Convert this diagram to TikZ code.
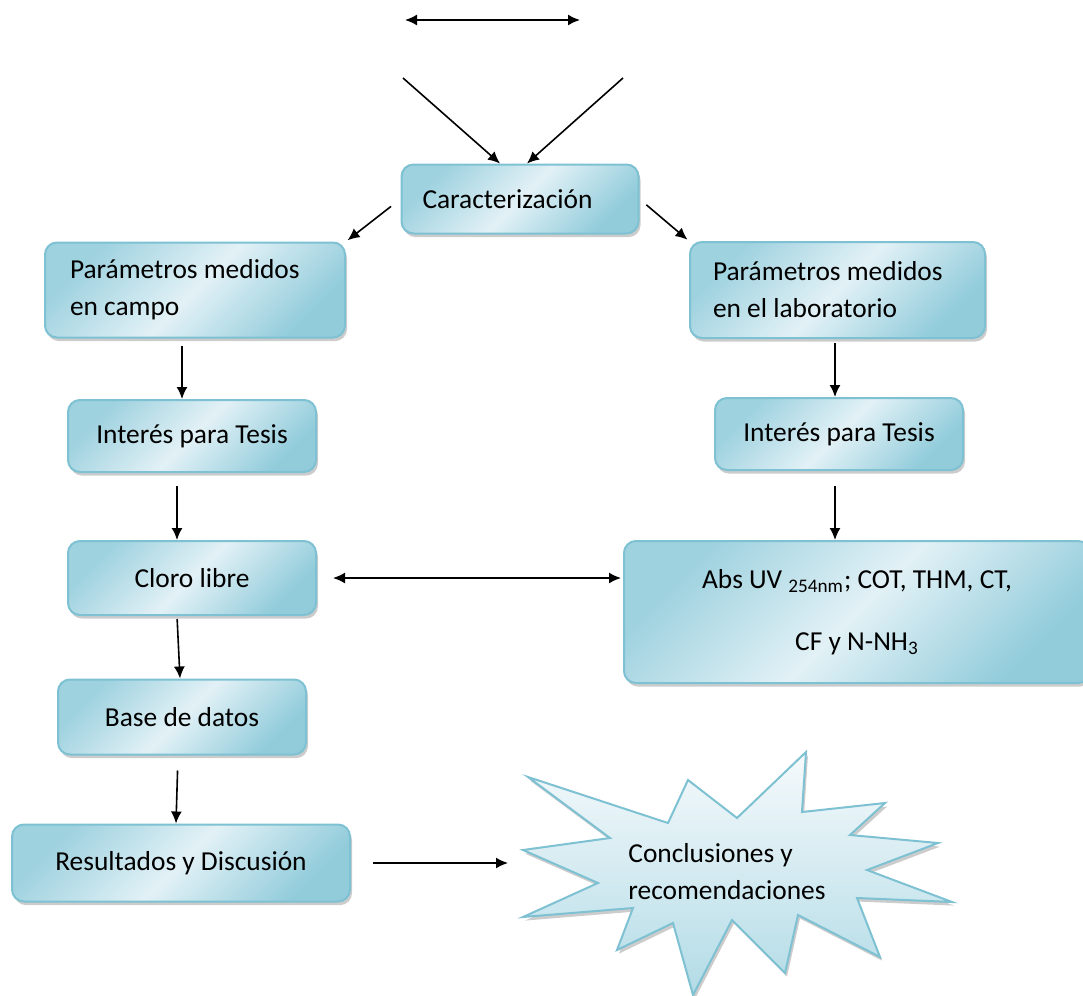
\documentclass[tikz,border=0pt]{standalone}
\usepackage{fontspec}
\setmainfont{Carlito}
\usepackage{tikz}
\usetikzlibrary{arrows.meta,shadows}

\definecolor{boxline}{RGB}{125,193,210}
\definecolor{boxdark}{RGB}{146,204,219}
\definecolor{boxlight}{RGB}{226,241,246}
\definecolor{startop}{RGB}{246,250,252}
\definecolor{starbot}{RGB}{178,219,230}

\begin{document}
\begin{tikzpicture}[
  x=0.5pt,
  y=-0.5pt,
  font=\fontsize{13.7}{18.5}\selectfont,
  box/.style={draw=boxline, line width=1pt, rounded corners=6pt,
    left color=boxdark!85!boxlight, right color=boxdark, middle color=boxlight, shading angle=45,
    drop shadow={shadow xshift=1pt, shadow yshift=-1.8pt, fill=gray!80},
    inner sep=0pt, align=center},
  leftbox/.style={box, align=flush left},
  arr/.style={-{Latex[length=6pt,width=5.5pt]}, line width=0.8pt},
  dblarr/.style={{Latex[length=6pt,width=5.5pt]}-{Latex[length=6pt,width=5.5pt]}, line width=0.8pt}
]
\useasboundingbox (0,0) rectangle (1083,996);

% top
\coordinate (dblL) at (405,20);
\coordinate (dblR) at (580,20);
\draw[dblarr] (dblL) -- (dblR);
\node[leftbox, inner xsep=10.5pt, text width=97.5pt, minimum height=34.5pt] (car) at (520,199) {Caracterización};
\coordinate (inL) at (403,78);
\coordinate (inR) at (623,78);
\draw[arr] (inL) -- ([xshift=-10pt]car.north);
\draw[arr] (inR) -- ([xshift=3.5pt]car.north);

% left column
\node[leftbox, inner xsep=12.5pt, text width=125pt, minimum height=47.5pt] (campo) at (195,290) {Parámetros medidos\\en campo};
\node[box, minimum width=124pt, minimum height=36pt] (tesisA) at (192,436) {Interés para Tesis};
\node[box, minimum width=124pt, minimum height=37pt] (cloro) at (192,578) {Cloro libre};
\node[box, minimum width=124pt, minimum height=37.5pt] (base) at (182,717) {Base de datos};
\node[box, minimum width=169pt, minimum height=38.5pt] (res) at (181,863) {Resultados y Discusión};

% right column
\node[leftbox, inner xsep=11.5pt, text width=124.5pt, minimum height=48pt] (lab) at (837.5,290) {Parámetros medidos\\en el laboratorio};
\node[box, minimum width=124pt, minimum height=36pt] (tesisB) at (839,434) {Interés para Tesis};
\node[box, minimum width=233pt, minimum height=71pt, font=\fontsize{13.7}{31}\selectfont] (abs) at (857,612) {Abs UV \textsubscript{254nm}; COT, THM, CT,\\CF y N-NH\textsubscript{3}};

% starburst
\path[draw=boxline, line width=1pt, top color=startop, bottom color=starbot,
  drop shadow={shadow xshift=1pt, shadow yshift=-1.8pt, fill=gray!80}]
  (528,777) -- (668,823) -- (688,780) -- (737,818) -- (806,752) -- (802,812)
  -- (885,803) -- (850,835) -- (938,843) -- (867,870) -- (952,902) -- (857,898)
  -- (880,957) -- (798,915) -- (785,973) -- (732,920) -- (693,995) -- (673,923)
  -- (617,950) -- (633,908) -- (523,917) -- (598,883) -- (523,850) -- (610,838) -- cycle;
\node[align=flush left] (concl) at (727,872) {Conclusiones y\\recomendaciones};
\coordinate (starW) at (520,860);

% connectors
\draw[arr, shorten <=6pt, shorten >=1pt] (car.west) -- (campo.north east);
\draw[arr, shorten <=4.5pt, shorten >=1pt] (car.east) -- (lab.north west);
\draw[arr, shorten <=3.5pt] ([xshift=-6.5pt]campo.south) -- ([xshift=-6.5pt]campo.south |- tesisA.north);
\draw[arr, shorten <=6.5pt] ([xshift=-7.5pt]tesisA.south) -- ([xshift=-7.5pt]tesisA.south |- cloro.north);
\draw[arr, shorten <=1.5pt] ([xshift=-7.5pt]cloro.south) -- ([xshift=-1pt]base.north);
\draw[arr, shorten <=7.5pt] ([xshift=-2pt]base.south) -- ([xshift=-2.5pt]res.north);
\draw[arr, shorten <=2pt] ([xshift=-1.25pt]lab.south) -- ([xshift=-1.25pt]lab.south |- tesisB.north);
\draw[arr, shorten <=7.5pt] ([xshift=-2pt]tesisB.south) -- ([xshift=-2pt]tesisB.south |- abs.north);
\draw[dblarr, shorten <=8pt, shorten >=1pt] (cloro.east) -- (cloro.east -| abs.west);
\draw[arr, shorten <=11pt, shorten >=6pt] (res.east) -- (res.east -| starW);
\end{tikzpicture}
\end{document}
